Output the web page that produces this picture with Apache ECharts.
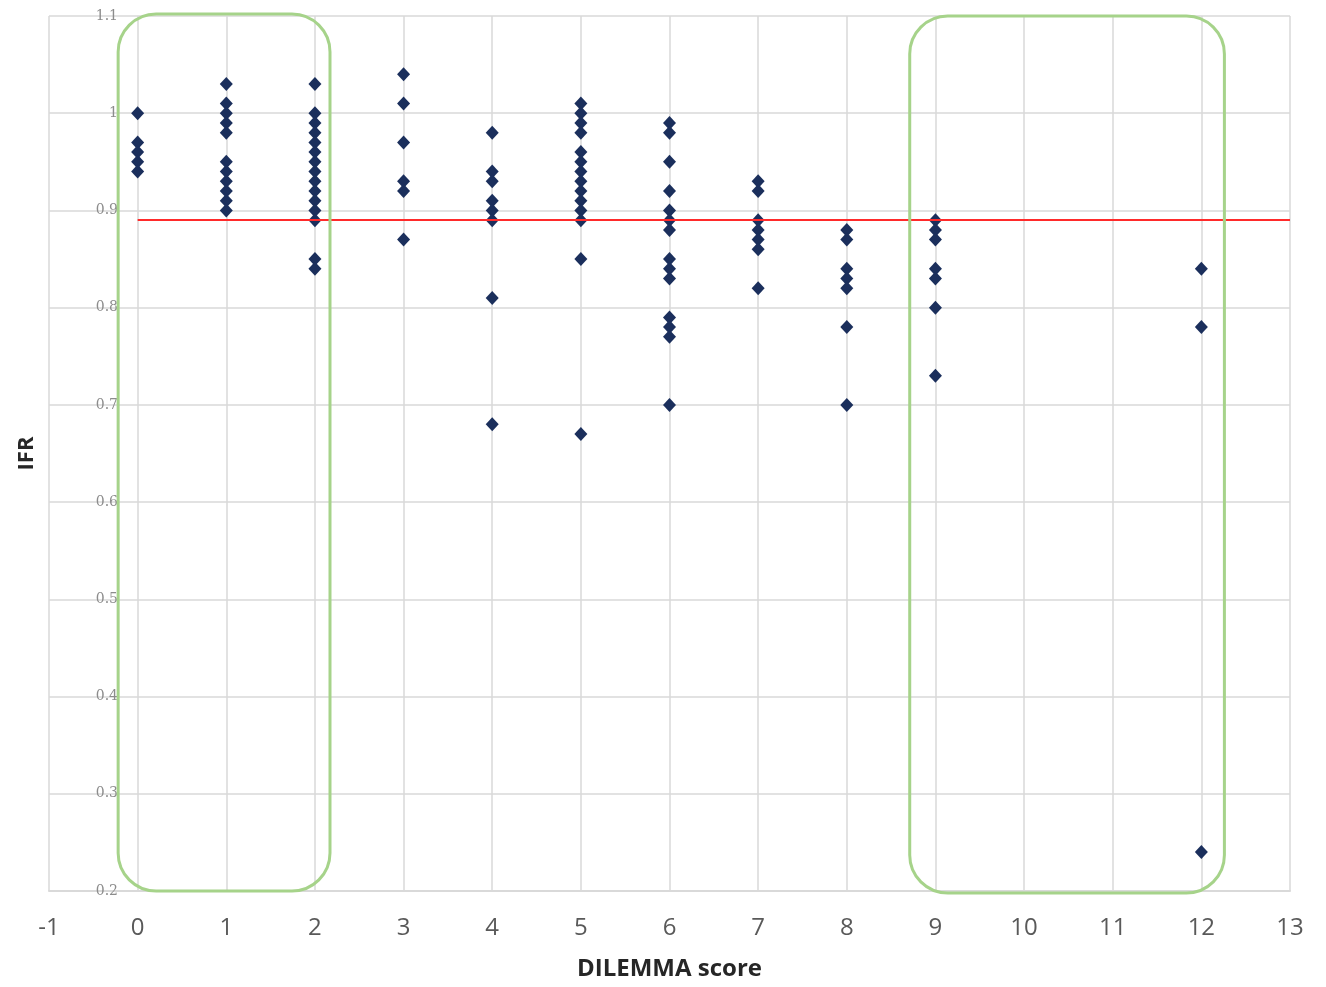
<!DOCTYPE html>
<html>
<head>
<meta charset="utf-8">
<script src="https://cdn.jsdelivr.net/npm/echarts@6/dist/echarts.min.js"></script>
<style>
  html, body { margin: 0; padding: 0; background: #fff; }
  #chart { width: 1326px; height: 987px; }
</style>
</head>
<body>
<div id="chart"></div>
<script>
// DILEMMA score per column and the IFR values
const scores = [0, 1, 2, 3, 4, 5, 6, 7, 8, 9, 12];
const ifr0 = [1.00, 0.97, 0.96, 0.95, 0.94];
const ifr1 = [1.03, 1.01, 1.00, 0.99, 0.98, 0.95, 0.94, 0.93, 0.92, 0.91, 0.90];
const ifr2 = [1.03, 1.00, 0.99, 0.98, 0.97, 0.96, 0.95, 0.94, 0.93, 0.92, 0.91, 0.90, 0.89, 0.85, 0.84];
const ifr3 = [1.04, 1.01, 0.97, 0.93, 0.92, 0.87];
const ifr4 = [0.98, 0.94, 0.93, 0.91, 0.90, 0.89, 0.81, 0.68];
const ifr5 = [1.01, 1.00, 0.99, 0.98, 0.96, 0.95, 0.94, 0.93, 0.92, 0.91, 0.90, 0.89, 0.85, 0.67];
const ifr6 = [0.99, 0.98, 0.95, 0.92, 0.90, 0.89, 0.88, 0.85, 0.84, 0.83, 0.79, 0.78, 0.77, 0.70];
const ifr7 = [0.93, 0.92, 0.89, 0.88, 0.87, 0.86, 0.82];
const ifr8 = [0.88, 0.87, 0.84, 0.83, 0.82, 0.78, 0.70];
const ifr9 = [0.89, 0.88, 0.87, 0.84, 0.83, 0.80, 0.73];
const ifr12 = [0.84, 0.78, 0.24];
const ifrByScore = [ifr0, ifr1, ifr2, ifr3, ifr4, ifr5, ifr6, ifr7, ifr8, ifr9, ifr12];

// reference line
const refIFR = 0.89;
const refFrom = 0;
const refTo = 13;

// highlighted groups (data units)
const boxes = [
  { x0: -0.22, x1: 2.17, y0: 0.2, y1: 1.102 },
  { x0: 8.71, x1: 12.26, y0: 0.198, y1: 1.1 }
];

const points = [];
scores.forEach((s, i) => ifrByScore[i].forEach(v => points.push([s, v])));

const chart = echarts.init(document.getElementById('chart'));
const gridColor = '#d9d9d9';

chart.setOption({
  animation: false,
  backgroundColor: '#fff',
  grid: { left: 49, right: 36, top: 16, bottom: 96 },
  xAxis: {
    type: 'value',
    min: -1, max: 13, interval: 1,
    name: 'DILEMMA score',
    nameLocation: 'middle',
    nameGap: 66,
    nameTextStyle: { fontFamily: 'Open Sans', fontWeight: 'bold', fontSize: 24, color: '#262626' },
    axisLine: { show: true, lineStyle: { color: gridColor, width: 2 } },
    axisTick: { show: false },
    axisLabel: { margin: 25, fontFamily: 'Open Sans', fontSize: 24, color: '#595959' },
    splitLine: { show: true, lineStyle: { color: gridColor, width: 1.5 } }
  },
  yAxis: {
    type: 'value',
    min: 0.2, max: 1.1, interval: 0.1,
    offset: -89,
    name: 'IFR',
    nameLocation: 'middle',
    nameGap: 100,
    nameRotate: 90,
    nameTextStyle: { fontFamily: 'Open Sans', fontWeight: 'bold', fontSize: 22, color: '#262626' },
    axisLine: { show: false },
    axisTick: { show: false },
    axisLabel: {
      margin: 20, fontFamily: 'DejaVu Serif', fontSize: 14, color: '#8c8c8c',
      formatter: v => String(+v.toFixed(1))
    },
    splitLine: { show: true, lineStyle: { color: gridColor, width: 1.5 } }
  },
  series: [
    {
      type: 'scatter',
      data: points,
      symbol: 'diamond',
      symbolSize: [13, 14],
      itemStyle: { color: '#1b2f5c', opacity: 1 },
      z: 3,
      markLine: {
        silent: true,
        symbol: 'none',
        label: { show: false },
        lineStyle: { color: '#ff2a2a', width: 2, type: 'solid' },
        data: [[{ coord: [refFrom, refIFR] }, { coord: [refTo, refIFR] }]]
      }
    }
  ]
});

// rounded annotation boxes, positioned from data units
chart.setOption({
  graphic: boxes.map(b => {
    const p0 = chart.convertToPixel({ gridIndex: 0 }, [b.x0, b.y1]);
    const p1 = chart.convertToPixel({ gridIndex: 0 }, [b.x1, b.y0]);
    return {
      type: 'rect',
      z: 10,
      shape: { x: p0[0], y: p0[1], width: p1[0] - p0[0], height: p1[1] - p0[1], r: 38 },
      style: { fill: 'none', stroke: '#a6d38a', lineWidth: 3 }
    };
  })
});
</script>
</body>
</html>
